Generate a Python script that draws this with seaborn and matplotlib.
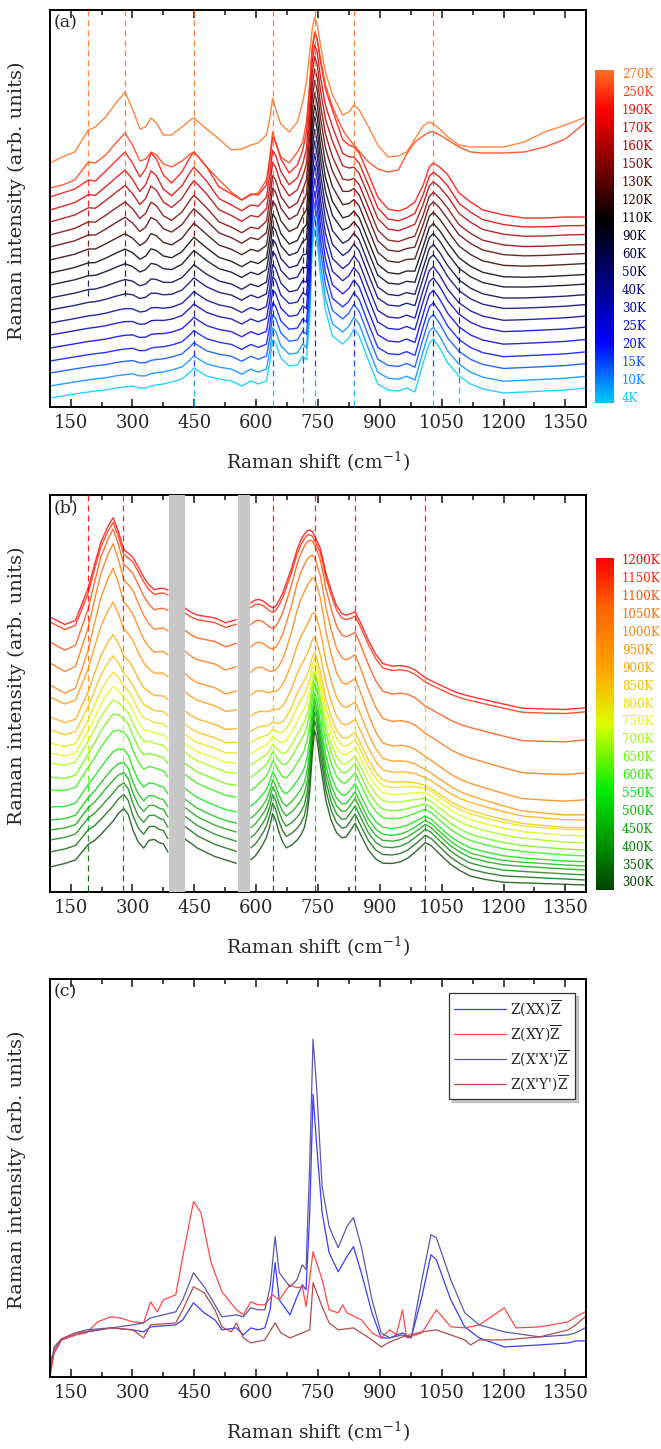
import numpy as np
import pandas as pd
import seaborn as sns
import matplotlib.pyplot as plt
import matplotlib.colors as mcolors
import matplotlib.ticker as ticker
from matplotlib.collections import LineCollection

### data section (intensities in arbitrary units)

# panel (a): low temperature spectra
shift_a = [100, 130, 160, 193, 210, 235, 262, 282, 300, 318,
           332, 345, 358, 375, 395, 420, 440, 449, 460, 480,
           510, 540, 565, 587, 605, 625, 633, 640, 647, 660,
           680, 700, 713, 722, 730, 736, 742, 748, 756, 768,
           785, 810, 825, 837, 850, 870, 895, 920, 945, 965,
           985, 1005, 1020, 1030, 1045, 1065, 1092, 1120, 1150, 1200,
           1250, 1300, 1350, 1400]
int_270 = [244, 250, 255, 277, 280, 290, 305, 315, 298, 278,
           280, 289, 284, 272, 272, 280, 287, 289, 285, 278,
           268, 257, 258, 262, 264, 272, 288, 309, 298, 283,
           275, 285, 305, 325, 355, 378, 390, 383, 362, 335,
           312, 292, 295, 302, 297, 282, 262, 250, 251, 255,
           268, 281, 285, 283, 278, 270, 262, 260, 260, 260,
           265, 275, 282, 290]
int_250 = [219, 222, 227, 245, 244, 252, 265, 274, 262, 246,
           248, 255, 252, 243, 240, 246, 253, 255, 250, 240,
           227, 215, 207, 212, 214, 227, 250, 275, 265, 250,
           244, 255, 265, 285, 325, 360, 375, 368, 348, 322,
           300, 277, 268, 262, 256, 246, 238, 235, 237, 253,
           265, 271, 275, 275, 272, 267, 260, 255, 254, 254,
           255, 260, 268, 285]
# 190K spectrum above its own baseline
warm_a = [0, 4, 8, 17, 16, 26, 37, 45, 34, 20,
          28, 44, 38, 22, 14, 25, 40, 45, 40, 30,
          10, 3, -3, 3, 2, 12, 35, 60, 55, 38,
          24, 32, 47, 65, 110, 148, 164, 158, 135, 108,
          87, 57, 52, 50, 44, 25, 0, -12, -14, -11,
          -5, 12, 30, 34, 30, 22, 4, -5, -13, -18,
          -21, -21, -20, -20]
# 4K spectrum above its own baseline
cold_a = [0, 2, 4, 6, 7, 8, 10, 11, 12, 10,
          10, 12, 13, 14, 16, 19, 26, 30, 27, 22,
          19, 17, 12, 17, 14, 17, 35, 58, 55, 40,
          32, 33, 42, 38, 80, 150, 170, 155, 122, 88,
          62, 54, 60, 69, 62, 40, 14, 8, 7, 10,
          6, 35, 55, 59, 50, 35, 22, 14, 9, 5,
          6, 7, 8, 10]
temps_a = [270, 250, 190, 170, 160, 150, 130, 120, 110, 90, 60, 50, 40, 30, 25, 20, 15, 10, 4]
base_a = [210, 197, 185, 172, 160, 147, 134, 122, 109, 97, 84, 72, 59, 46, 34, 21, 9]
mix_a = [1.0, 0.85, 0.75, 0.65, 0.55, 0.45, 0.38, 0.3, 0.22, 0.15, 0.1, 0.07, 0.05, 0.03, 0.02, 0.01, 0.0]
lines_a = [193, 282, 449, 640, 713, 742, 837, 1030, 1092]
lines_a_lo = [107, 107, 0, 0, 0, 0, 0, 0, 0]
lines_a_hi = [397, 397, 397, 397, 220, 397, 397, 397, 140]

# panel (b): high temperature spectra (nan = masked regions)
shift_b = [100, 136, 162, 193, 208, 223, 240, 253, 266, 279,
           290, 301, 314, 327, 340, 353, 365, 375, 386, 405,
           426, 440, 457, 478, 500, 526, 552, 570, 587, 598,
           608, 618, 625, 633, 640, 647, 655, 664, 673, 686,
           699, 708, 717, 724, 730, 736, 742, 748, 755, 762,
           769, 782, 795, 808, 818, 828, 840, 852, 872, 890,
           907, 930, 950, 968, 985, 998, 1010, 1025, 1040, 1056,
           1072, 1095, 1120, 1158, 1200, 1245, 1300, 1350, 1398]
hot_b = [0, -5, 1, 36, 60, 83, 100, 110, 97, 80,
         77, 74, 65, 56, 49, 45, 47, 48, 47, np.nan,
         32, 29, 27, 27, 27, 24, 29, np.nan, 48, 52,
         53, 52, 50, 48, 47, 49, 55, 63, 74, 90,
         109, 119, 126, 130, 131, 130, 126, 121, 115, 104,
         91, 74, 60, 53, 52, 54, 57, 48, 31, 18,
         10, 9, 11, 11, 9, 6, 3, 1, -1, -3,
         -5, -7, -8, -9, -10, -11, -8, -5, 0]
cool_b = [0, 4, 8, 24, 28, 34, 42, 48, 56, 61,
          55, 40, 28, 22, 30, 31, 28, 27, 19, np.nan,
          33, 29, 24, 20, 16, 13, 10, np.nan, 14, 18,
          24, 31, 37, 48, 61, 55, 43, 33, 27, 30,
          35, 40, 48, 62, 84, 120, 146, 135, 114, 95,
          76, 56, 44, 39, 40, 46, 54, 44, 28, 19,
          15, 15, 17, 21, 27, 32, 37, 34, 28, 22,
          16, 10, 5, 2, 0, 0, 0, 0, 0]
temps_b = [1200, 1150, 1100, 1050, 1000, 950, 900, 850, 800, 750,
           700, 650, 600, 550, 500, 450, 400, 350, 300]
left_b = [275, 270, 250, 229, 207, 195, 175, 162, 149, 139, 129, 115, 102, 85, 72, 62, 52, 40, 25]
right_b = [184, 180, 152, 119, 92, 77, 72, 64, 62, 56, 49, 42, 36, 30, 26, 22, 17, 12, 7]
mix_b = [1.0, 1.0, 0.97, 0.93, 0.88, 0.82, 0.75, 0.68, 0.6, 0.52,
         0.45, 0.38, 0.3, 0.22, 0.15, 0.1, 0.05, 0.02, 0.0]
amp_b = [1.0, 1.0, 1.15, 1.25, 1.27, 1.1, 1.0, 0.95, 0.95, 0.95,
         0.95, 1.0, 1.0, 1.0, 1.0, 1.0, 1.0, 1.0, 1.0]
lines_b = [193, 278, 640, 743, 840, 1010]
bands_b = [(388, 427), (555, 586)]

# panel (c): polarized spectra
xx_x = [100, 110, 128, 162, 188, 249, 301, 327, 344, 405,
        422, 448, 474, 500, 517, 552, 569, 587, 604, 621,
        634, 646, 656, 682, 699, 712, 721, 730, 738, 747,
        760, 777, 799, 820, 836, 855, 881, 903, 924, 955,
        976, 1002, 1024, 1037, 1072, 1106, 1141, 1202, 1288, 1357,
        1375, 1398]
xx_y = [17, 24, 37, 42, 45, 49, 47, 45, 50, 52,
        57, 74, 64, 57, 47, 49, 42, 49, 47, 49,
        67, 114, 77, 62, 80, 92, 87, 164, 282, 230,
        164, 124, 105, 120, 130, 104, 64, 39, 39, 44,
        39, 80, 122, 117, 77, 50, 39, 30, 32, 34,
        36, 36]
xpxp_y = [7, 30, 38, 44, 47, 49, 52, 54, 59, 65,
          77, 104, 90, 72, 60, 62, 60, 69, 67, 67,
          90, 140, 104, 90, 97, 112, 107, 214, 337, 287,
          190, 150, 129, 150, 159, 130, 77, 44, 39, 42,
          39, 97, 142, 139, 97, 64, 52, 45, 40, 42,
          44, 49]
xy_x = [100, 110, 128, 162, 188, 216, 240, 249, 270, 301,
        327, 344, 360, 375, 405, 422, 448, 466, 490, 517,
        552, 569, 587, 604, 621, 640, 656, 682, 699, 712,
        721, 738, 760, 777, 799, 810, 820, 855, 881, 903,
        924, 940, 955, 965, 1002, 1037, 1072, 1106, 1141, 1170,
        1202, 1230, 1288, 1357, 1375, 1398]
xy_y = [0, 24, 37, 42, 44, 55, 59, 60, 59, 55,
        54, 75, 65, 77, 82, 120, 175, 164, 115, 85,
        67, 62, 75, 72, 72, 82, 77, 92, 89, 90,
        70, 125, 97, 67, 64, 72, 64, 57, 44, 39,
        47, 42, 67, 39, 44, 67, 50, 49, 52, 60,
        69, 49, 50, 55, 60, 65]
xpyp_x = [100, 110, 128, 162, 188, 249, 301, 327, 344, 405,
          422, 448, 474, 500, 517, 540, 552, 569, 587, 621,
          646, 660, 682, 712, 730, 738, 760, 777, 799, 836,
          855, 881, 903, 924, 955, 1002, 1037, 1072, 1106, 1120,
          1141, 1202, 1288, 1357, 1375, 1398]
xpyp_y = [4, 27, 38, 44, 45, 49, 47, 39, 52, 54,
          67, 90, 84, 67, 50, 45, 54, 39, 34, 37,
          54, 44, 39, 44, 47, 94, 70, 54, 47, 49,
          44, 37, 30, 35, 40, 45, 47, 42, 37, 32,
          37, 37, 40, 47, 52, 60]
pol_labels = [r"Z(XX)$\overline{\mathrm{Z}}$", r"Z(XY)$\overline{\mathrm{Z}}$",
              r"Z(X'X')$\overline{\mathrm{Z}}$", r"Z(X'Y')$\overline{\mathrm{Z}}$"]
pol_colors = ["#3c3cf5", "#ff4848", "#5a5aa8", "#b04c4c"]

### colour maps
cmap_a = mcolors.LinearSegmentedColormap.from_list(
    "frio", [(0, "#00ccff"), (0.18, "#0000ff"), (0.55, "#000000"), (0.88, "#ff0000"), (1.0, "#ff7020")])
cmap_b = mcolors.LinearSegmentedColormap.from_list(
    "quente", [(0, "#004400"), (0.3, "#00ee00"), (0.5, "#ddff00"), (0.65, "#ffaa00"),
               (0.85, "#ff6600"), (1.0, "#ff0000")])

### style
sns.set_theme(style="white")
plt.rcParams["font.family"] = ["DejaVu Serif"]
plt.rcParams["mathtext.fontset"] = "dejavuserif"
plt.rcParams["axes.edgecolor"] = "black"
plt.rcParams["axes.linewidth"] = 1.4


def tracejado(ax, xs, lo, hi, cmap, y0, y1):
    # vertical dashed guide whose colour follows the height
    segs, cores = [], []
    for x, a, b in zip(xs, lo, hi):
        y = b
        while y > a:
            y2 = max(y - 6, a)
            segs.append([(x, y), (x, y2)])
            cores.append(cmap(float(np.clip(((y + y2) / 2 - y0) / (y1 - y0), 0, 1))))
            y -= 10
    ax.add_collection(LineCollection(segs, colors=cores, linewidths=0.9, alpha=0.85, zorder=3))


def eixo(ax, letra):
    ax.set_xlim(100, 1400)
    ax.set_ylim(0, 397)
    ax.set_yticks([])
    ax.xaxis.set_major_locator(ticker.MultipleLocator(150))
    ax.xaxis.set_minor_locator(ticker.MultipleLocator(75))
    ax.tick_params(axis="x", which="both", direction="in", top=True, bottom=True,
                   labelsize=13, pad=5, width=1.2)
    ax.tick_params(axis="x", which="major", length=6)
    ax.tick_params(axis="x", which="minor", length=3.5)
    ax.set_xlabel("Raman shift (cm$^{-1}$)", fontsize=13.5, labelpad=13)
    ax.set_ylabel("Raman intensity (arb. units)", fontsize=14)
    ax.yaxis.set_label_coords(-0.045, 0.52)
    ax.text(0.006, 0.988, letra, transform=ax.transAxes, ha="left", va="top", fontsize=12.5)


def barra(fig, rect, cmap, labels, y_top, y_bot):
    cax = fig.add_axes(rect)
    cax.imshow(np.linspace(0, 1, 256)[:, None], aspect="auto", cmap=cmap, origin="lower")
    cax.set_axis_off()
    n = len(labels)
    for i, lab in enumerate(labels):
        y_img = y_top + i * (y_bot - y_top) / (n - 1)
        fig.text(622 / 661, 1 - y_img / 1449, lab, color=cmap(1 - i / (n - 1)),
                 fontsize=8.5, va="center", ha="left")


fig = plt.figure(figsize=(6.61, 14.49), dpi=100)
ax_a = fig.add_axes([50 / 661, 1 - 407 / 1449, 536 / 661, 397 / 1449])
ax_b = fig.add_axes([50 / 661, 1 - 892 / 1449, 536 / 661, 397 / 1449])
ax_c = fig.add_axes([50 / 661, 1 - 1377 / 1449, 536 / 661, 398 / 1449])

### panel (a)
frames = [pd.DataFrame({"shift": shift_a, "I": int_270, "T": 270}),
          pd.DataFrame({"shift": shift_a, "I": int_250, "T": 250})]
for t, b, w in zip(temps_a[2:], base_a, mix_a):
    y = b + w * np.array(warm_a, float) + (1 - w) * np.array(cold_a, float)
    frames.append(pd.DataFrame({"shift": shift_a, "I": y, "T": t}))
df_a = pd.concat(frames, ignore_index=True)
n_a = len(temps_a)
pal_a = {t: cmap_a(1 - i / (n_a - 1)) for i, t in enumerate(temps_a)}
sns.lineplot(data=df_a, x="shift", y="I", hue="T", units="T", estimator=None, sort=False,
             palette=pal_a, legend=False, linewidth=1.0, alpha=0.85, ax=ax_a)
tracejado(ax_a, lines_a, lines_a_lo, lines_a_hi, cmap_a, 10, 240)
eixo(ax_a, "(a)")
barra(fig, [595 / 661, 1 - 403 / 1449, 19 / 661, 333 / 1449], cmap_a,
      [f"{t}K" for t in temps_a], 75, 398)

### panel (b)
frames = []
xb = np.array(shift_b, float)
hot = np.array(hot_b, float)
cool = np.array(cool_b, float)
seg = np.cumsum(np.isnan(hot))
for t, l, r, w, a in zip(temps_b, left_b, right_b, mix_b, amp_b):
    linha = l + (r - l) * (xb - 100) / 1300
    y = linha + a * (w * hot + (1 - w) * cool)
    frames.append(pd.DataFrame({"shift": xb, "I": y, "T": t, "u": t * 10 + seg}))
df_b = pd.concat(frames, ignore_index=True).dropna()
n_b = len(temps_b)
pal_b = {t: cmap_b(1 - i / (n_b - 1)) for i, t in enumerate(temps_b)}
sns.lineplot(data=df_b, x="shift", y="I", hue="T", units="u", estimator=None, sort=False,
             palette=pal_b, legend=False, linewidth=1.0, alpha=0.8, ax=ax_b)
for x0, x1 in bands_b:
    ax_b.axvspan(x0, x1, color="#c8c8c8", lw=0, zorder=4)
tracejado(ax_b, lines_b, [0] * len(lines_b), [397] * len(lines_b), cmap_b, 20, 280)
eixo(ax_b, "(b)")
barra(fig, [596 / 661, 1 - 890 / 1449, 18 / 661, 332 / 1449], cmap_b,
      [f"{t}K" for t in temps_b], 561, 883)

### panel (c)
df_c = pd.concat([
    pd.DataFrame({"shift": xx_x, "I": xx_y, "pol": pol_labels[0]}),
    pd.DataFrame({"shift": xy_x, "I": xy_y, "pol": pol_labels[1]}),
    pd.DataFrame({"shift": xx_x, "I": xpxp_y, "pol": pol_labels[2]}),
    pd.DataFrame({"shift": xpyp_x, "I": xpyp_y, "pol": pol_labels[3]}),
], ignore_index=True)
sns.lineplot(data=df_c, x="shift", y="I", hue="pol", estimator=None, sort=False,
             palette=dict(zip(pol_labels, pol_colors)), linewidth=0.9, ax=ax_c)
eixo(ax_c, "(c)")
leg = ax_c.legend(loc="upper right", bbox_to_anchor=(1 - 11 / 536, 1 - 14 / 398),
                  borderaxespad=0, fontsize=10, frameon=True, fancybox=False,
                  edgecolor="#333333", framealpha=1, handlelength=3.7,
                  handletextpad=0.3, labelspacing=0.35,
                  shadow={"ox": 2, "oy": -2, "shade": 0.4})
leg.get_frame().set_linewidth(0.9)

fig.savefig("out.png", dpi=100)
